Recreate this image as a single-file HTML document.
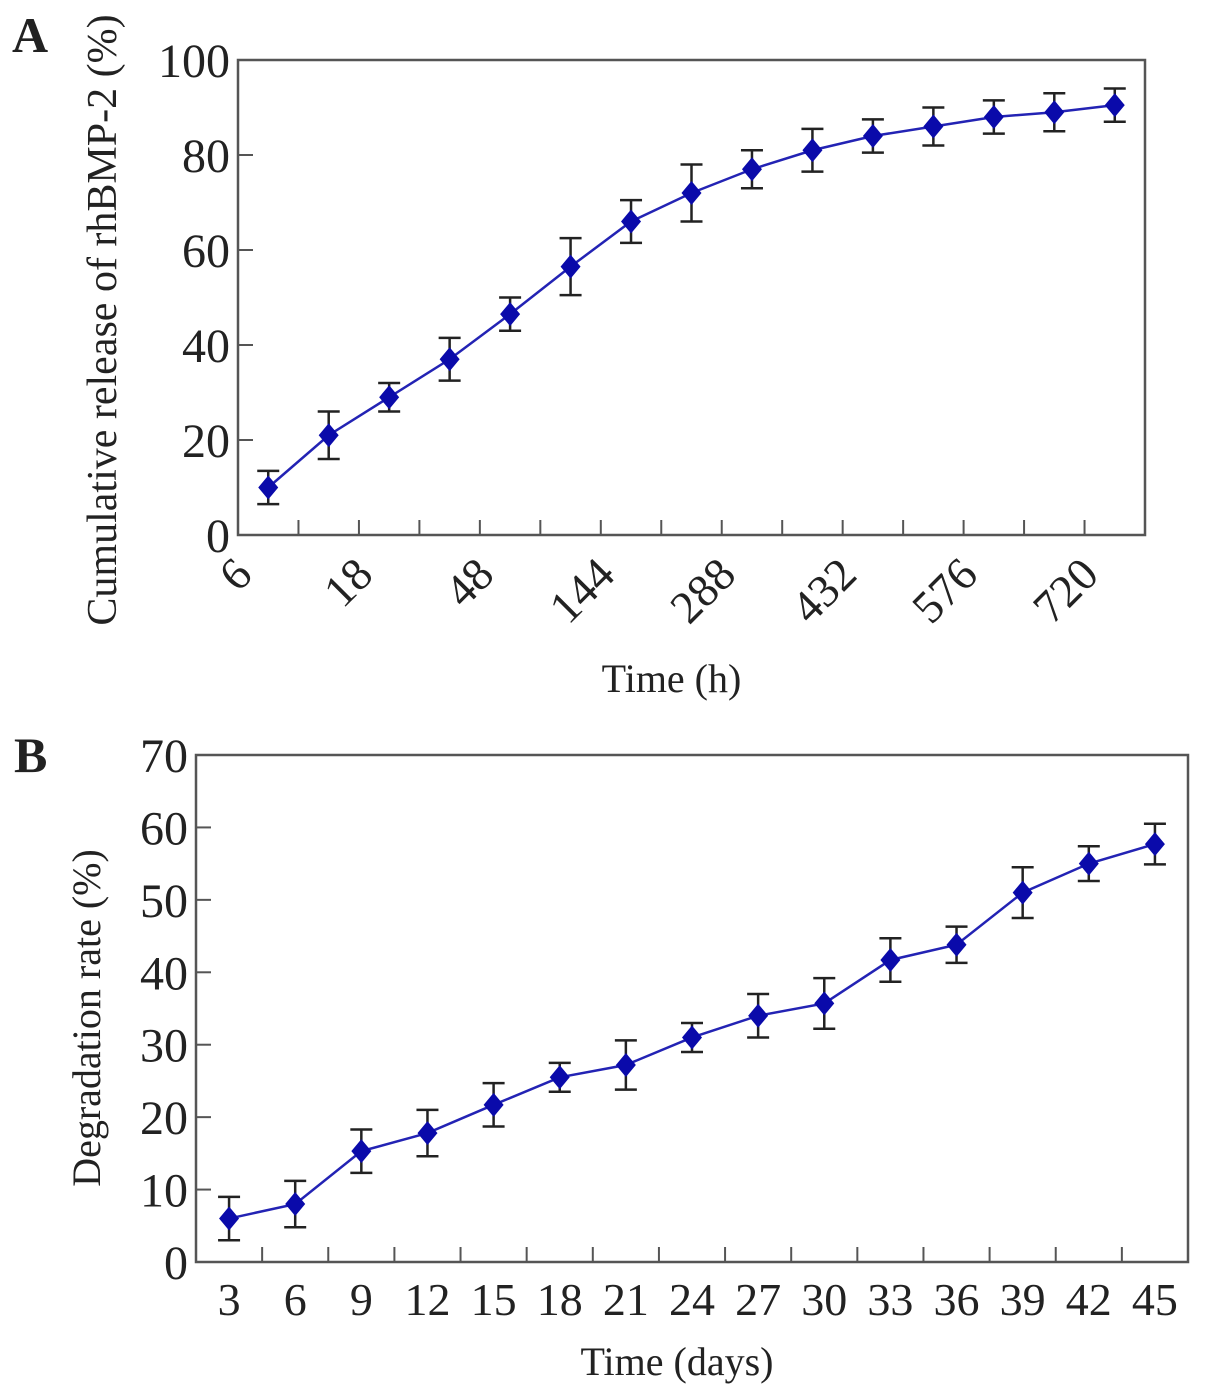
<!DOCTYPE html>
<html><head><meta charset="utf-8"><style>
body{margin:0;background:#fff}
svg text{font-family:"Liberation Serif",serif;fill:#222}
</style></head><body>
<svg id="s" width="1205" height="1395" xmlns="http://www.w3.org/2000/svg"></svg>
<script>
const catsA=["6","","18","","48","","144","","288","","432","","576","","720"];
const valsA=[10,21,29,37,46.5,56.5,66,72,77,81,84,86,88,89,90.5];
const errA=[3.5,5,3,4.5,3.5,6,4.5,6,4,4.5,3.5,4,3.5,4,3.5];
const ticksA=[0,20,40,60,80,100];
const catsB=["3","6","9","12","15","18","21","24","27","30","33","36","39","42","45"];
const valsB=[6,8,15.3,17.8,21.7,25.5,27.2,31,34,35.7,41.7,43.8,51,55,57.7];
const errB=[3,3.2,3,3.2,3,2,3.4,2,3,3.5,3,2.5,3.5,2.4,2.8];
const ticksB=[0,10,20,30,40,50,60,70];
const s=document.getElementById('s');
function el(t,a,txt){const e=document.createElementNS('http://www.w3.org/2000/svg',t);for(const k in a)e.setAttribute(k,a[k]);if(txt!==undefined)e.textContent=txt;s.appendChild(e);return e;}
function chart(id,L,R,T,B,ymax,cats,vals,errs,ticks,rot,xt,yt,letter,lx,ly,ytx,ytsize){
  const n=cats.length,bw=(R-L)/n;
  const X=i=>L+bw*(i+0.5), Y=v=>B-(v/ymax)*(B-T);
  let e=el('rect',{x:L,y:T,width:R-L,height:B-T,fill:'none',stroke:'#555','stroke-width':2.5});
  
  for(let i=1;i<n;i++){e=el('line',{x1:L+bw*i,x2:L+bw*i,y1:B,y2:B-15,stroke:'#555','stroke-width':2});
    }
  ticks.forEach(t=>{const y=Y(t);
    e=el('line',{x1:L,x2:L+15,y1:y,y2:y,stroke:'#555','stroke-width':2});
    
    e=el('text',{x:L-8,y:y+17,'text-anchor':'end','font-size':48,textLength:String(t).length*24,lengthAdjust:'spacingAndGlyphs'},String(t));
    });
  cats.forEach((c,i)=>{if(!c)return;
    if(rot){e=el('text',{x:0,y:0,'text-anchor':'end','font-size':46,transform:`translate(${X(i)-14},${B+42}) rotate(-45)`},c);}
    else{e=el('text',{x:X(i),y:B+53,'text-anchor':'middle','font-size':46},c);}
    });
  e=el('polyline',{points:vals.map((v,i)=>X(i)+','+Y(v)).join(' '),fill:'none',stroke:'#2323b4','stroke-width':2.5});
  
  vals.forEach((v,i)=>{const x=X(i),y1=Y(v+errs[i]),y2=Y(v-errs[i]);
    e=el('path',{d:`M${x},${y1}V${y2}M${x-11},${y1}H${x+11}M${x-11},${y2}H${x+11}`,stroke:'#222','stroke-width':2.5,fill:'none'});
    
    const y=Y(v);
    e=el('path',{d:`M${x},${y-12}L${x+10},${y}L${x},${y+12}L${x-10},${y}Z`,fill:'#0a0aaa'});
    });
  e=el('text',{x:(L+R)/2+(id==='a'?-20:-15),y:xt,'text-anchor':'middle','font-size':40},id==='a'?'Time (h)':'Time (days)');
  
  e=el('text',{x:0,y:0,'text-anchor':'middle','font-size':ytsize,transform:`translate(${ytx},${ly==52?320:1018}) rotate(-90)`},yt);
  
  e=el('text',{x:lx,y:ly,'font-size':50,'font-weight':'bold'},letter);
  
}
chart('a',238,1145,60,535,100,catsA,valsA,errA,ticksA,true,692,'Cumulative release of rhBMP-2 (%)','A',12,52,116,42);
chart('b',196,1188,755,1262,70,catsB,valsB,errB,ticksB,false,1375,'Degradation rate (%)','B',14,772,100,40);
</script>
</body></html>
